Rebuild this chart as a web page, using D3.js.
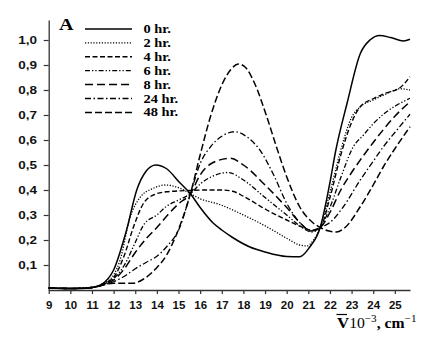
<!DOCTYPE html>
<html><head><meta charset="utf-8">
<script src="https://cdn.jsdelivr.net/npm/d3@7"></script>
<style>body{margin:0;background:#fff}svg{display:block}</style>
</head><body><svg id="c" width="438" height="346"></svg>
<script>
// ---- data ----
const xTicks = [9,10,11,12,13,14,15,16,17,18,19,20,21,22,23,24,25];
const yTicks = [0.1,0.2,0.3,0.4,0.5,0.6,0.7,0.8,0.9,1.0];
const yTickLabels = ["0,1","0,2","0,3","0,4","0,5","0,6","0,7","0,8","0,9","1,0"];
const seriesNames = ["0 hr.","2 hr.","4 hr.","6 hr.","8 hr.","24 hr.","48 hr."];

const hr0 = [[9,0.008],[10,0.006],[10.5,0.006],[11,0.01],[11.4,0.02],[12,0.08],[12.6,0.24],[13.07,0.40],[13.5,0.475],[13.95,0.50],[14.45,0.485],[15.05,0.43],[15.55,0.385],[16,0.33],[16.6,0.268],[17,0.24],[17.5,0.21],[18.3,0.172],[19,0.152],[20,0.134],[20.6,0.133],[21.05,0.17],[21.55,0.25],[22,0.43],[22.25,0.55],[22.8,0.75],[23.4,0.945],[23.85,1.0],[24.3,1.018],[24.8,1.01],[25.4,0.996],[25.7,1.003]];
const hr2 = [[9,0.008],[10,0.006],[11,0.01],[11.5,0.025],[12,0.06],[12.3,0.12],[12.76,0.29],[13.22,0.37],[13.84,0.407],[14.4,0.42],[15.07,0.407],[15.55,0.385],[16,0.365],[16.9,0.342],[18,0.30],[19.08,0.253],[20,0.207],[20.6,0.18],[20.93,0.176],[21.2,0.195],[21.55,0.25],[22,0.39],[22.5,0.56],[23,0.69],[23.4,0.733],[24,0.76],[24.5,0.78],[25.25,0.805],[25.7,0.80]];
const hr4 = [[9,0.008],[10,0.006],[11,0.01],[11.5,0.024],[12,0.05],[12.5,0.14],[12.91,0.25],[13.37,0.345],[13.84,0.38],[14.45,0.393],[15.5,0.398],[16.3,0.40],[17,0.40],[17.5,0.395],[18,0.375],[19.08,0.32],[20,0.28],[20.9,0.245],[21.2,0.238],[21.55,0.25],[22,0.37],[22.5,0.54],[23,0.67],[23.4,0.733],[24,0.765],[24.5,0.785],[25.25,0.81],[25.7,0.853]];
const hr6 = [[9,0.008],[10,0.006],[11,0.01],[11.5,0.022],[12,0.045],[12.5,0.10],[13,0.19],[13.4,0.262],[14,0.30],[14.45,0.335],[15,0.36],[15.55,0.385],[16,0.424],[16.5,0.452],[17.3,0.47],[18,0.44],[19,0.37],[20,0.30],[20.8,0.245],[21.15,0.232],[21.55,0.25],[22,0.33],[22.5,0.45],[23.08,0.573],[23.55,0.62],[24,0.665],[24.5,0.705],[25,0.735],[25.7,0.767]];
const hr8 = [[9,0.008],[10,0.006],[11,0.01],[11.5,0.02],[12,0.04],[12.5,0.085],[13,0.15],[13.5,0.205],[14,0.25],[14.5,0.30],[15,0.345],[15.55,0.385],[16,0.46],[16.5,0.505],[17.4,0.527],[18,0.50],[19,0.42],[20,0.33],[20.7,0.262],[21.1,0.236],[21.55,0.25],[22,0.31],[22.5,0.40],[23,0.47],[23.4,0.52],[24,0.59],[24.5,0.645],[25,0.695],[25.7,0.753]];
const hr24 = [[9,0.008],[10,0.006],[11,0.01],[11.5,0.02],[12,0.033],[12.5,0.055],[13,0.085],[13.5,0.11],[14,0.135],[14.45,0.173],[15.07,0.253],[15.55,0.385],[16,0.505],[16.5,0.575],[17,0.615],[17.6,0.633],[18.2,0.61],[18.76,0.56],[19.4,0.46],[20,0.347],[20.6,0.27],[21.1,0.238],[21.55,0.25],[22,0.27],[22.62,0.333],[23.4,0.44],[24,0.515],[24.47,0.573],[25,0.63],[25.7,0.703]];
const hr48 = [[9,0.008],[10,0.006],[11,0.01],[11.5,0.02],[12,0.027],[12.9,0.027],[13.37,0.043],[13.95,0.085],[14.45,0.14],[14.92,0.225],[15.55,0.385],[16,0.54],[16.5,0.70],[17,0.82],[17.4,0.88],[17.77,0.904],[18.1,0.89],[18.5,0.83],[19.08,0.693],[19.5,0.58],[20,0.453],[20.6,0.333],[21.2,0.27],[21.55,0.25],[21.9,0.237],[22.3,0.232],[22.7,0.25],[23.4,0.333],[24,0.42],[24.47,0.493],[25,0.565],[25.7,0.653]];

const seriesData = [hr0, hr2, hr4, hr6, hr8, hr24, hr48];
const dashes = ["none","1.2,1.6","5,2.5","5,2,1.3,2,1.3,2","8,4","6,2.5,1.5,2.5","7,3"];
const widths = [1.5,1.3,1.4,1.3,1.5,1.3,1.5];

// ---- drawing ----
const svg = d3.select("#c");
const x = d3.scaleLinear().domain([9,25.7]).range([48.7,410]);
const y = d3.scaleLinear().domain([0,1.08]).range([290,20]);

const gx = svg.append("g").attr("transform","translate(0,290)")
  .call(d3.axisBottom(x).tickValues(xTicks).tickSize(4).tickSizeOuter(0).tickFormat(d=>d));
gx.selectAll("text").attr("y",19.5).attr("dy",0)
  .attr("transform","scale(1.15,1)")
  .style("font-family","'Liberation Sans',Arial,sans-serif").style("font-weight","bold")
  .style("font-size","10px").attr("fill","#111");

const gy = svg.append("g").attr("transform","translate(48.7,0)")
  .call(d3.axisLeft(y).tickValues(yTicks).tickSize(5).tickSizeOuter(0).tickFormat((d,i)=>yTickLabels[i]));
gy.selectAll("text").attr("x",-8.6).attr("dy",0).attr("y",3.5)
  .attr("transform","scale(1.35,1)")
  .style("font-family","'Liberation Sans',Arial,sans-serif").style("font-weight","bold")
  .style("font-size","10px").attr("fill","#111");
svg.selectAll(".domain").attr("stroke","#333").attr("stroke-width",1.3);
svg.selectAll(".tick line").attr("stroke","#333").attr("stroke-width",1.2);

const line = d3.line().x(d=>x(d[0])).y(d=>y(d[1])).curve(d3.curveMonotoneX);
svg.append("g").selectAll("path").data(seriesData).join("path")
  .attr("d",line).attr("fill","none").attr("stroke","#000")
  .attr("stroke-width",(d,i)=>widths[i])
  .attr("stroke-dasharray",(d,i)=>dashes[i]);

// legend
const lg = svg.append("g");
seriesNames.forEach((n,i)=>{
  const yy = 29 + i*13.9;
  lg.append("line").attr("x1",85).attr("x2",132).attr("y1",yy).attr("y2",yy)
    .attr("stroke","#000").attr("stroke-width",widths[i]).attr("stroke-dasharray",dashes[i]);
  lg.append("text").attr("transform",`translate(143.5,${yy+4}) scale(1.2,1)`)
    .style("font-family","'Liberation Serif','Times New Roman',serif").style("font-weight","bold")
    .style("font-size","12px").text(n);
});

// panel label
svg.append("text").attr("transform","translate(59,29.5) scale(1.15,1)")
  .style("font-family","'Liberation Serif','Times New Roman',serif").style("font-weight","bold")
  .style("font-size","17.5px").text("A");

// x axis title
const t = svg.append("text").attr("transform","translate(337,328) scale(1.12,1)")
  .style("font-family","'Liberation Serif','Times New Roman',serif").style("font-size","14px");
t.append("tspan").style("font-weight","bold").style("font-size","15px").text("V");
t.append("tspan").text("10");
t.append("tspan").attr("dy",-6).style("font-size","10px").text("−3");
t.append("tspan").attr("dy",6).style("font-weight","bold").text(", cm");
t.append("tspan").attr("dy",-6).style("font-size","10px").text("−1");
svg.append("line").attr("x1",336.5).attr("x2",347).attr("y1",314.5).attr("y2",314.5)
  .attr("stroke","#000").attr("stroke-width",1.2);
</script></body></html>
